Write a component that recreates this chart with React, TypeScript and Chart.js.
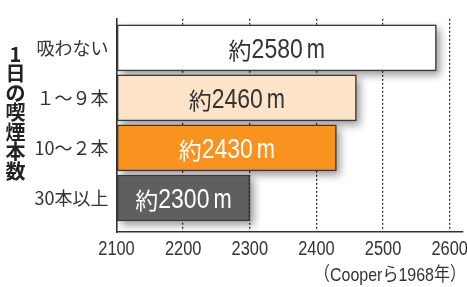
import React, { useEffect, useRef } from "react";
import { Chart, registerables } from "chart.js";

Chart.register(...registerables);

const categories = ["吸わない", "１～９本", "10～２本", "30本以上"];
const distances = [2580, 2460, 2430, 2300];
const barLabels = ["2580", "2460", "2430", "2300"];
const barColors = ["#ffffff", "#fde4c9", "#f7931e", "#5f5f5f"];
const labelColors = ["#333333", "#333333", "#ffffff", "#ffffff"];
const xTicks = [2100, 2200, 2300, 2400, 2500, 2600];
const yTitleChars = ["1", "日", "の", "喫", "煙", "本", "数"];
const sourceText = "（Cooperら1968年）";

const LATIN = "'Liberation Sans', Arial, sans-serif";
const MIXED = "'Liberation Sans', 'Noto Sans CJK JP', sans-serif";
const CJK = "'Noto Sans CJK JP', sans-serif";
const NARROW_K = 0.82;

function drawScaledText(ctx: any, text: string, x: number, y: number, k: number) {
  ctx.save();
  ctx.translate(x, y);
  ctx.scale(k, 1);
  ctx.fillText(text, 0, 0);
  ctx.restore();
}

function drawBarLabels(chart: any) {
  const ctx = chart.ctx;
  const meta = chart.getDatasetMeta(0);
  meta.data.forEach((el: any, i: number) => {
    const p = el.getProps(["x", "y", "base"], true);
    const cx = (p.base + p.x) / 2;
    const by = p.y + 10;
    ctx.save();
    ctx.fillStyle = labelColors[i];
    ctx.textBaseline = "alphabetic";
    ctx.textAlign = "left";
    const fK = "23px " + CJK;
    const fN = "28px " + LATIN;
    ctx.font = fK;
    const wK = ctx.measureText("約").width;
    ctx.font = fN;
    const wN = ctx.measureText(barLabels[i]).width * NARROW_K;
    const wM = ctx.measureText("m").width * 0.78;
    const gap2 = 4;
    const total = wK + wN + gap2 + wM;
    let x = cx - total / 2;
    ctx.font = fK;
    ctx.fillText("約", x, by + 1);
    x += wK;
    ctx.font = fN;
    drawScaledText(ctx, barLabels[i], x, by, NARROW_K);
    x += wN + gap2;
    drawScaledText(ctx, "m", x, by, 0.78);
    ctx.restore();
  });
}

const decorPlugin = {
  id: "decor",
  beforeDatasetsDraw(chart: any) {
    const ctx = chart.ctx;
    const meta = chart.getDatasetMeta(0);
    const area = chart.chartArea;
    ctx.save();
    ctx.beginPath();
    ctx.rect(area.left, area.top, area.right - area.left + 10, area.bottom - area.top);
    ctx.clip();
    meta.data.forEach((el: any) => {
      const p = el.getProps(["x", "y", "base", "height"], true);
      const left = Math.min(p.base, p.x);
      const right = Math.max(p.base, p.x);
      ctx.save();
      ctx.shadowColor = "rgba(0,0,0,0.4)";
      ctx.shadowBlur = 8;
      ctx.shadowOffsetX = 4;
      ctx.shadowOffsetY = 4;
      ctx.fillStyle = "#999";
      ctx.fillRect(left, p.y - p.height / 2, right - left, p.height);
      ctx.restore();
    });
    ctx.restore();
  },
  afterDraw(chart: any) {
    const ctx = chart.ctx;
    drawBarLabels(chart);
    ctx.save();
    const xs = chart.scales.x;
    ctx.fillStyle = "#333";
    ctx.textAlign = "center";
    ctx.textBaseline = "alphabetic";
    ctx.font = "20px " + LATIN;
    xs.ticks.forEach((t: any) => {
      const px = xs.getPixelForValue(t.value);
      drawScaledText(ctx, String(t.value), px, xs.bottom - 32, NARROW_K);
    });
    ctx.fillStyle = "#222";
    ctx.textAlign = "center";
    ctx.textBaseline = "middle";
    ctx.font = "bold 20px " + CJK;
    yTitleChars.forEach((c, i) => {
      ctx.fillText(c, 15.5, 54 + i * 19.5);
    });
    ctx.fillStyle = "#333";
    ctx.textAlign = "right";
    ctx.textBaseline = "alphabetic";
    ctx.font = "19px " + MIXED;
    const w = ctx.measureText(sourceText).width;
    drawScaledText(ctx, sourceText, 466, 281, 152 / w);
    ctx.restore();
  },
};

export default function App() {
  const ref = useRef<HTMLCanvasElement | null>(null);
  useEffect(() => {
    if (!ref.current) return;
    const chart = new Chart(ref.current, {
      type: "bar",
      data: {
        datasets: [
          {
            data: categories.map((c, i) => ({ x: distances[i], y: i })) as any,
            base: xTicks[0],
            backgroundColor: barColors,
            borderColor: "#383838",
            borderWidth: 1.5,
            barThickness: 46,
            borderSkipped: false,
          },
        ],
      },
      options: {
        indexAxis: "y",
        animation: false,
        responsive: false,
        devicePixelRatio: 1,
        layout: { padding: { top: 5, right: 4, left: 0, bottom: 0 } },
        plugins: { legend: { display: false }, tooltip: { enabled: false } },
        scales: {
          x: {
            type: "linear",
            min: 2100,
            max: 2620,
            offset: false,
            afterFit(scale: any) {
              scale.height = 55;
            },
            afterBuildTicks(scale: any) {
              scale.ticks = xTicks.map((v) => ({ value: v }));
            },
            ticks: {
              display: false,
              includeBounds: false,
              stepSize: 100,
              autoSkip: false,
              maxRotation: 0,
              callback: (v: any) => String(v),
            },
            grid: {
              display: true,
              drawTicks: false,
              offset: false,
              color: (c: any) => (c.tick && c.tick.value > 2100 ? "#333" : "rgba(0,0,0,0)"),
              lineWidth: 1.3,
            },
            border: { display: true, color: "#333", width: 1.6, dash: [2, 2] },
          },
          y: {
            type: "linear",
            reverse: true,
            min: -0.58,
            max: 3.68,
            offset: false,
            afterFit(scale: any) {
              scale.width = 116.5;
            },
            afterBuildTicks(scale: any) {
              scale.ticks = categories.map((c, i) => ({ value: i }));
            },
            ticks: {
              includeBounds: false,
              stepSize: 1,
              autoSkip: false,
              padding: 8,
              color: "#333",
              font: { family: CJK, size: 18 },
              callback: (v: any) => categories[v] ?? "",
            },
            grid: { display: false, drawTicks: false, offset: false },
            border: { display: true, color: "#333", width: 1.6 },
          },
        },
      } as any,
      plugins: [decorPlugin],
    });
    return () => chart.destroy();
  }, []);
  return (
    <div style={{ position: "fixed", left: 0, top: 0, width: 467, height: 287, background: "#fff" }}>
      <canvas ref={ref} width={467} height={287} style={{ display: "block" }} />
    </div>
  );
}
